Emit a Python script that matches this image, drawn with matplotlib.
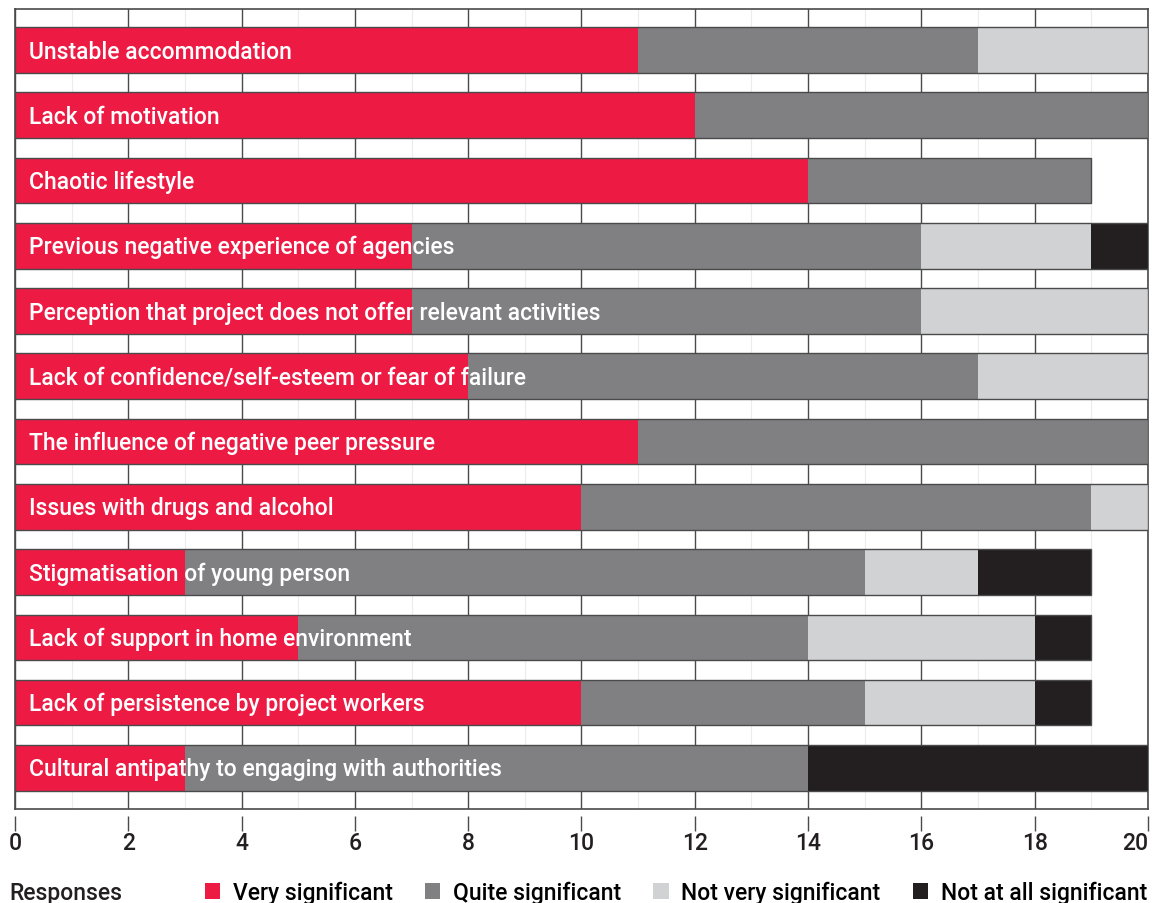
import matplotlib.pyplot as plt
import numpy as np
from matplotlib.ticker import MultipleLocator

categories = [
    'Unstable accommodation',
    'Lack of motivation',
    'Chaotic lifestyle',
    'Previous negative experience of agencies',
    'Perception that project does not offer relevant activities',
    'Lack of confidence/self-esteem or fear of failure',
    'The influence of negative peer pressure',
    'Issues with drugs and alcohol',
    'Stigmatisation of young person',
    'Lack of support in home environment',
    'Lack of persistence by project workers',
    'Cultural antipathy to engaging with authorities',
]
very = [11, 12, 14, 7, 7, 8, 11, 10, 3, 5, 10, 3]
quite = [6, 8, 5, 9, 9, 9, 9, 9, 12, 9, 5, 11]
not_very = [3, 0, 0, 3, 4, 3, 0, 1, 2, 4, 3, 0]
not_at_all = [0, 0, 0, 1, 0, 0, 0, 0, 2, 1, 1, 6]
x_ticks = [0, 2, 4, 6, 8, 10, 12, 14, 16, 18, 20]

series_names = ['Very significant', 'Quite significant', 'Not very significant', 'Not at all significant']
colors = ['#ed1a43', '#808083', '#d1d2d4', '#231f20']

plt.rcParams['font.family'] = ['Roboto', 'DejaVu Sans']

fig = plt.figure(figsize=(11.56, 9.04), dpi=100)
ax = fig.add_axes([0.013, 0.104, 0.980, 0.885])

y = np.arange(len(categories))
data = [np.array(very), np.array(quite), np.array(not_very), np.array(not_at_all)]
left = np.zeros(len(categories))
handles = []
for vals, name, col in zip(data, series_names, colors):
    h = ax.barh(y, vals, left=left, height=0.7, color=col, label=name, zorder=3)
    handles.append(h)
    left += vals

# outline round each whole bar
ax.barh(y, left, height=0.7, facecolor='none', edgecolor='#4a4a4a', linewidth=1.0, zorder=4)

for i, lab in enumerate(categories):
    ax.annotate(lab, xy=(0, i), xytext=(14, -1), textcoords='offset pixels',
                va='center', ha='left', color='white', fontsize=16.5, fontweight='medium', zorder=5)

ax.set_xlim(0, 20)
ax.set_ylim(len(categories) - 0.37, -0.63)
ax.set_xticks(x_ticks)
ax.set_xticklabels([str(t) for t in x_ticks])
ax.xaxis.set_minor_locator(MultipleLocator(1))
ax.set_yticks([])
ax.grid(True, axis='x', which='major', color='#4a4a4a', linewidth=1.0, zorder=0)
ax.grid(True, axis='x', which='minor', color='#ececec', linewidth=0.8, zorder=0)

for s in ['left', 'top', 'right']:
    ax.spines[s].set_color('#4a4a4a')
    ax.spines[s].set_linewidth(1.2)
ax.spines['bottom'].set_position(('outward', 5))
ax.spines['bottom'].set_visible(False)
ax.axhline(ax.get_ylim()[0], color='#4a4a4a', linewidth=1.2, clip_on=False, zorder=6)

ax.tick_params(axis='x', which='major', direction='out', length=11, width=1.0, color='#4a4a4a',
               labelsize=16.5, pad=0)
ax.tick_params(axis='x', which='minor', length=0)
ticklabels = ax.get_xticklabels()
for t in ticklabels:
    t.set_fontweight('medium')
    t.set_color('#231f20')
ticklabels[-1].set_horizontalalignment('right')

fig.text(0.008, 0.012, 'Responses', fontsize=16.5, fontweight='medium', color='#231f20', va='center')
fig.legend(handles=handles, labels=series_names, loc='center left', bbox_to_anchor=(0.177, 0.012),
           ncol=4, frameon=False, handlelength=0.68, handleheight=0.68, handletextpad=0.55,
           columnspacing=1.4, prop={'size': 16.5, 'weight': 'medium'}, borderaxespad=0, borderpad=0)

fig.savefig('out.png', dpi=100)
